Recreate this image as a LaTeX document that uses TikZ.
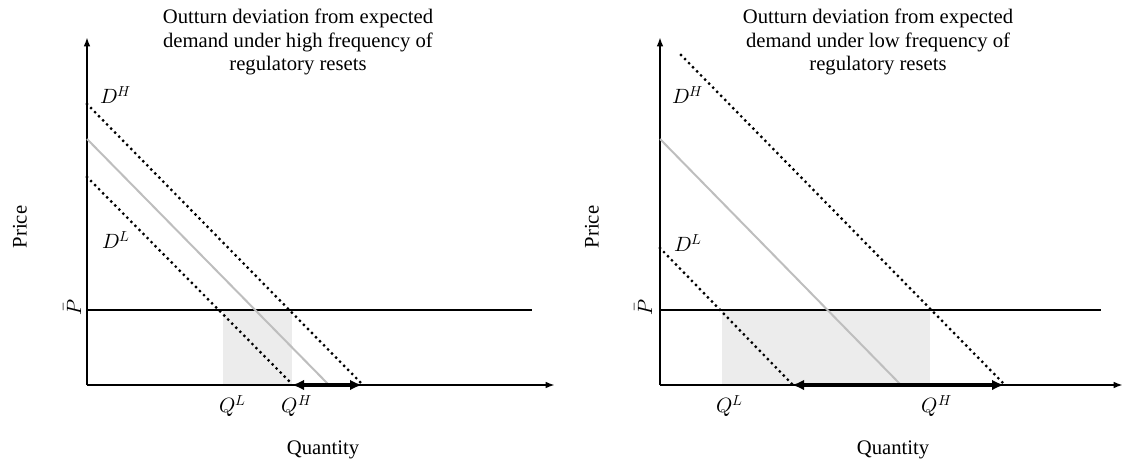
\documentclass[tikz,border=0pt]{standalone}
\usepackage{fontspec}
\usepackage{unicode-math}
\setmainfont{Liberation Serif}
\usetikzlibrary{arrows.meta}

\begin{document}
\begin{tikzpicture}[x=0.75pt,y=0.75pt,yscale=-1,xscale=1,
  axis/.style={line width=1.5pt,-{Latex[length=7pt,width=5pt]}},
  pbar/.style={line width=2pt},
  demand/.style={line width=2.4pt,line cap=round,dash pattern=on 0pt off 4.3pt},
  expected/.style={color={rgb,255:red,190;green,190;blue,190},line width=1.5pt},
  gap/.style={line width=3pt,{Latex[length=9pt,width=8pt]}-{Latex[length=9pt,width=8pt]}},
  band/.style={fill={rgb,255:red,236;green,236;blue,236}},
  lbl/.style={inner sep=0.75pt,font=\fontsize{15.5}{17.6}\selectfont},
  ttl/.style={lbl,align=center}]
\useasboundingbox (0,0) rectangle (1125,461);

%Left panel: high frequency
\coordinate (lO) at (87,385);
\coordinate (lYtop) at (87,37);
\coordinate (lXend) at (555,385);
\coordinate (lPa) at (87,310);
\coordinate (lPb) at (532,310);
\coordinate (lDHa) at (87,104);
\coordinate (lDHb) at (362,384);
\coordinate (lEa) at (87,139);
\coordinate (lEb) at (328,384);
\coordinate (lDLa) at (87,177);
\coordinate (lDLb) at (292,384);
\coordinate (lQH) at (292,385);
\coordinate (lQHH) at (362,385);

%Shaded band
\draw [band,draw=none] (223,310) rectangle (292,385);
%Axes
\draw [axis] (lO) -- (lYtop);
\draw [axis] (lO) -- (lXend);
%Regulated price
\draw [pbar] (lPa) -- (lPb);
%Expected demand
\draw [expected] (lEa) -- (lEb);
%Outturn demand
\draw [demand] (lDHa) -- (lDHb);
\draw [demand] (lDLa) -- (lDLb);
%Deviation
\draw [gap] (lQH) -- (lQHH);

% Text Node
\node [ttl] (lTitle) at (298,42) {Outturn deviation from expected\\demand under high frequency of\\regulatory resets};
% Text Node
\node [lbl] (lDH) at (116,95) {$D^{H}$};
% Text Node
\node [lbl] (lDL) at (116,240) {$D^{L}$};
% Text Node
\node [lbl] (lQLtxt) at (233,406) {$Q^{L}$};
% Text Node
\node [lbl] (lQHtxt) at (297,406) {$Q^{H}$};
% Text Node
\node [lbl] (lQty) at (323,450) {Quantity};
% Text Node
\node [lbl,rotate=90] (lPrice) at (20,227) {Price};
% Text Node
\node [lbl,rotate=90] (lPbar) at (72,307) {$\bar{P}$};

%Right panel: low frequency
\coordinate (rO) at (660,385);
\coordinate (rYtop) at (660,37);
\coordinate (rXend) at (1123,385);
\coordinate (rPa) at (660,310);
\coordinate (rPb) at (1101,310);
\coordinate (rDHa) at (681,55);
\coordinate (rDHb) at (1004,384);
\coordinate (rEa) at (660,139);
\coordinate (rEb) at (900,384);
\coordinate (rDLa) at (660,248);
\coordinate (rDLb) at (792,384);
\coordinate (rQL) at (792,385);
\coordinate (rQH) at (1004,385);

%Shaded band
\draw [band,draw=none] (722,310) rectangle (930,385);
%Axes
\draw [axis] (rO) -- (rYtop);
\draw [axis] (rO) -- (rXend);
%Regulated price
\draw [pbar] (rPa) -- (rPb);
%Expected demand
\draw [expected] (rEa) -- (rEb);
%Outturn demand
\draw [demand] (rDHa) -- (rDHb);
\draw [demand] (rDLa) -- (rDLb);
%Deviation
\draw [gap] (rQL) -- (rQH);

% Text Node
\node [ttl] (rTitle) at (878,42) {Outturn deviation from expected\\demand under low frequency of\\regulatory resets};
% Text Node
\node [lbl] (rDH) at (688,95) {$D^{H}$};
% Text Node
\node [lbl] (rDL) at (688,243) {$D^{L}$};
% Text Node
\node [lbl] (rQLtxt) at (730,406) {$Q^{L}$};
% Text Node
\node [lbl] (rQHtxt) at (937,406) {$Q^{H}$};
% Text Node
\node [lbl] (rQty) at (893,450) {Quantity};
% Text Node
\node [lbl,rotate=90] (rPrice) at (592,227) {Price};
% Text Node
\node [lbl,rotate=90] (rPbar) at (643,307) {$\bar{P}$};

\end{tikzpicture}
\end{document}
